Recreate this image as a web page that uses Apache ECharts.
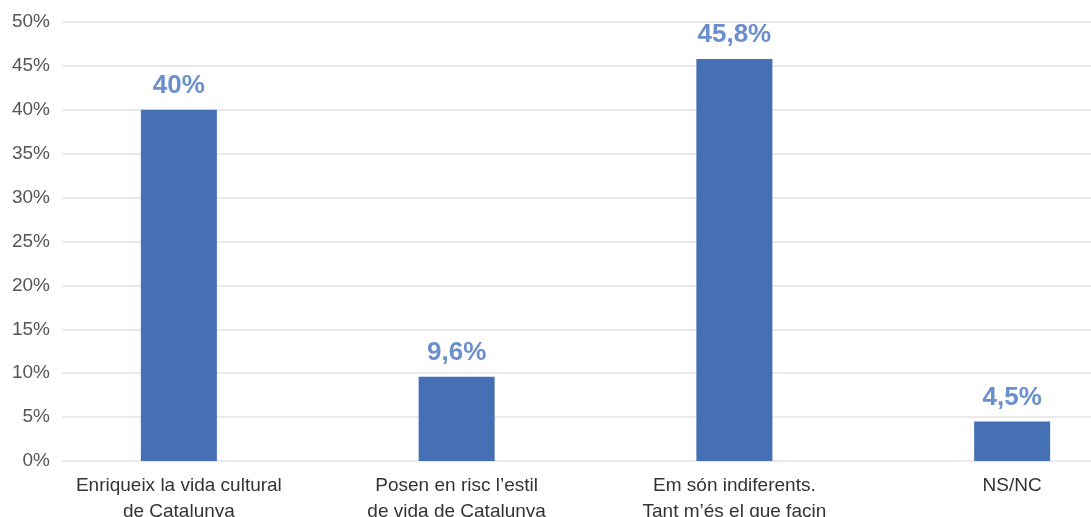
<!DOCTYPE html>
<html>
<head>
<meta charset="utf-8">
<style>html,body{margin:0;padding:0;background:#fff}#c{width:1091px;height:517px}</style>
<script src="https://cdn.jsdelivr.net/npm/echarts@6/dist/echarts.min.js"></script>
</head>
<body>
<div id="c"></div>
<script>
const categories = ["Enriqueix la vida cultural\nde Catalunya", "Posen en risc l’estil\nde vida de Catalunya", "Em són indiferents.\nTant m’és el que facin", "NS/NC"];
const values = [40, 9.6, 45.8, 4.5];
const yTicks = [0, 5, 10, 15, 20, 25, 30, 35, 40, 45, 50];

const chart = echarts.init(document.getElementById('c'));
const font = '"Liberation Sans", "DejaVu Sans", sans-serif';
chart.setOption({
  animation: false,
  grid: [
    {left: 40, width: 1111, top: 22, bottom: 56, containLabel: false, outerBoundsMode: 'none'},
    {left: 62, right: 0, top: 22, bottom: 56, containLabel: false, outerBoundsMode: 'none'}
  ],
  xAxis: [
    {type: 'category', gridIndex: 0, data: categories,
     axisLine: {show: false}, axisTick: {show: false},
     axisLabel: {fontFamily: font, fontSize: 19, color: '#333', lineHeight: 26, margin: 12, interval: 0}},
    {type: 'value', gridIndex: 1, min: 0, max: 1, show: false}
  ],
  yAxis: [
    {type: 'value', gridIndex: 0, min: yTicks[0], max: yTicks[yTicks.length-1], interval: 5, show: false},
    {type: 'value', gridIndex: 1, min: yTicks[0], max: yTicks[yTicks.length-1], interval: 5,
     axisLine: {show: false}, axisTick: {show: false},
     splitLine: {lineStyle: {color: '#e3e3e3', width: 1.5}},
     axisLabel: {fontFamily: font, fontSize: 19, color: '#555', margin: 12, formatter: v => v + '%'}}
  ],
  series: [{
    type: 'bar', xAxisIndex: 0, yAxisIndex: 0, data: values, barWidth: 76,
    itemStyle: {color: '#4570b5'}, z: 5,
    label: {show: true, position: 'top', distance: 11, fontFamily: font, fontSize: 26, fontWeight: 'bold', color: '#6a8fcc',
      formatter: p => String(p.value).replace('.', ',') + '%'}
  }]
});
</script>
</body>
</html>
